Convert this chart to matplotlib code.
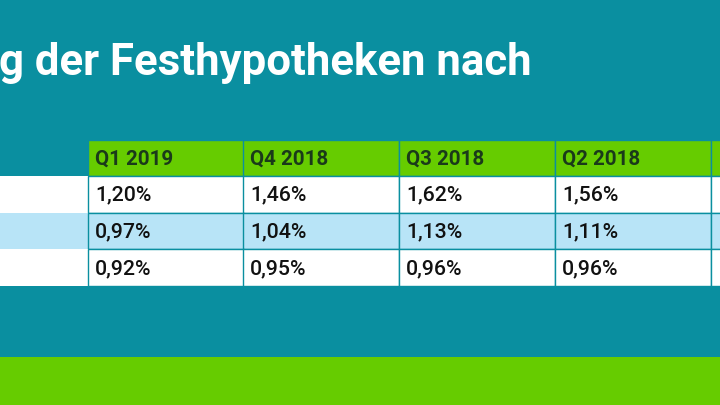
import matplotlib
matplotlib.use("Agg")
import matplotlib.pyplot as plt
from matplotlib.patches import Rectangle

title = "g der Festhypotheken nach"
quarters = ["Q1 2019", "Q4 2018", "Q3 2018", "Q2 2018", ""]
row1 = ["1,20%", "1,46%", "1,62%", "1,56%", ""]
row2 = ["0,97%", "1,04%", "1,13%", "1,11%", ""]
row3 = ["0,92%", "0,95%", "0,96%", "0,96%", ""]
rows = [row1, row2, row3]

TEAL = "#0a8fa0"
GREEN = "#66cc00"
LBLUE = "#b8e4f7"

fig = plt.figure(figsize=(7.2, 4.05), dpi=100)
fig.patch.set_facecolor(TEAL)
ax = fig.add_axes([0, 0, 1, 1])
ax.set_xlim(0, 720); ax.set_ylim(405, 0); ax.axis("off")
ax.set_facecolor(TEAL)

ax.add_patch(Rectangle((0, 357), 720, 48, color=GREEN, lw=0))
ax.text(-1, 63, title, color="white", fontsize=31.5, fontweight="bold",
        family="Roboto", va="center", ha="left")

xs = [88, 243, 399, 555, 711]
w = 155.5
top = 140
hh = 36
rh = 36.7
for i, q in enumerate(quarters):
    x = xs[i]
    ax.add_patch(Rectangle((x, top), w, hh, facecolor=GREEN, edgecolor=TEAL, lw=1))
    ax.text(x + 7, top + hh / 2 + 1, q, fontsize=14.8, fontweight="bold",
            family="Roboto", color="#1a3a1a", va="center")
for r, vals in enumerate(rows):
    y = top + hh + r * rh
    c = LBLUE if r == 1 else "white"
    ax.add_patch(Rectangle((0, y), 88, rh, facecolor=c, lw=0))
    for i, v in enumerate(vals):
        ax.add_patch(Rectangle((xs[i], y), w, rh, facecolor=c, edgecolor=TEAL, lw=1))
        ax.text(xs[i] + 7, y + rh / 2 + 1, v, fontsize=15.3, family="Roboto",
                fontweight="medium", color="#111111", va="center")

fig.savefig("out.png", dpi=100, facecolor=TEAL)
